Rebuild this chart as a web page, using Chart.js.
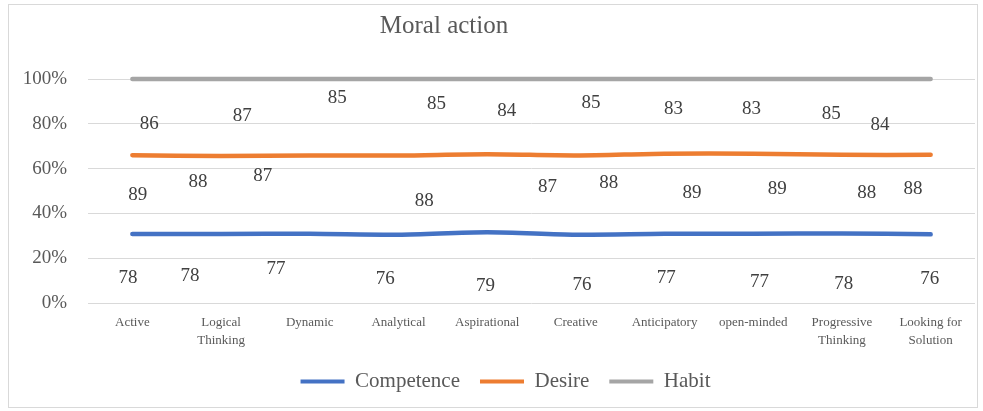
<!DOCTYPE html>
<html>
<head>
<meta charset="utf-8">
<script src="https://cdn.jsdelivr.net/npm/chart.js@4/dist/chart.umd.min.js"></script>
<style>
  html, body { margin: 0; padding: 0; background: #fff; }
  #wrap { position: relative; width: 983px; height: 411px; }
</style>
</head>
<body>
<div id="wrap"><canvas id="lineChart" width="983" height="411"></canvas></div>
<script>
const categories = [
    'Active', ['Logical', 'Thinking'], 'Dynamic', 'Analytical', 'Aspirational',
    'Creative', 'Anticipatory', 'open-minded', ['Progressive', 'Thinking'], ['Looking for', 'Solution']
];
const competence = [78, 78, 77, 76, 79, 76, 77, 77, 78, 76];
const desire = [89, 88, 87, 88, 87, 88, 89, 89, 88, 88];
const habit = [86, 87, 85, 85, 84, 85, 83, 83, 85, 84];
const yTicks = [0, 20, 40, 60, 80, 100];

// where each value label sits: [offset in categories, height in %]
const competenceLabelAt = [[-0.05, 11.2], [-0.35, 12.1], [-0.38, 15.2], [-0.15, 10.8], [-0.02, 7.6],
    [0.07, 8.1], [0.02, 11.2], [0.07, 9.4], [0.02, 8.5], [-0.01, 10.8]];
const desireLabelAt = [[0.06, 48.0], [-0.26, 53.8], [-0.53, 56.5], [0.29, 45.7], [0.68, 51.6],
    [0.37, 53.4], [0.31, 48.9], [0.27, 50.7], [0.28, 48.9], [-0.20, 51.1]];
const habitLabelAt = [[0.19, 79.8], [0.24, 83.4], [0.31, 91.5], [0.43, 88.8], [0.22, 85.7],
    [0.17, 89.2], [0.10, 86.5], [-0.02, 86.5], [-0.12, 84.3], [-0.57, 79.4]];

// 100% stacked: cumulative share of each series
const totals = competence.map((v, i) => v + desire[i] + habit[i]);
const competencePct = competence.map((v, i) => v / totals[i] * 100);
const desirePct = desire.map((v, i) => (competence[i] + v) / totals[i] * 100);
const habitPct = habit.map((v, i) => (competence[i] + desire[i] + v) / totals[i] * 100);

const serif = '"Liberation Serif", "DejaVu Serif", serif';

const framePlugin = {
    id: 'frame',
    afterLayout(chart) {
        // legend sits a little right of centre in the original
        chart.legend.left += 13;
        chart.legend.right += 13;
    },
    beforeDraw(chart) {
        const ctx = chart.ctx;
        ctx.save();
        ctx.strokeStyle = '#d9d9d9';
        ctx.lineWidth = 1;
        ctx.strokeRect(8.5, 4.5, 969, 403);
        ctx.fillStyle = '#595959';
        ctx.font = '25px ' + serif;
        ctx.textAlign = 'center';
        ctx.textBaseline = 'middle';
        ctx.fillText('Moral action', 444, 26);
        ctx.restore();
    }
};

const valueLabels = {
    id: 'valueLabels',
    afterDatasetsDraw(chart) {
        const ctx = chart.ctx;
        const xs = chart.scales.x, ys = chart.scales.y;
        const sets = [[competence, competenceLabelAt], [desire, desireLabelAt], [habit, habitLabelAt]];
        ctx.save();
        ctx.fillStyle = '#404040';
        ctx.font = '19px ' + serif;
        ctx.textAlign = 'center';
        ctx.textBaseline = 'middle';
        sets.forEach(([vals, pos]) => {
            vals.forEach((v, i) => {
                ctx.fillText(String(v), xs.getPixelForValue(i + pos[i][0]), ys.getPixelForValue(pos[i][1]));
            });
        });
        ctx.restore();
    }
};

const ctx = document.getElementById('lineChart').getContext('2d');
new Chart(ctx, {
    type: 'line',
    data: {
        labels: categories,
        datasets: [
            { label: 'Competence', data: competencePct, borderColor: '#4472C4', backgroundColor: '#4472C4' },
            { label: 'Desire', data: desirePct, borderColor: '#ED7D31', backgroundColor: '#ED7D31' },
            { label: 'Habit', data: habitPct, borderColor: '#A5A5A5', backgroundColor: '#A5A5A5' },
        ].map(d => Object.assign(d, {
            borderWidth: 4.5,
            pointRadius: 0,
            tension: 0.3,
            clip: false,
            borderCapStyle: 'round',
        })),
    },
    options: {
        responsive: false,
        animation: false,
        layout: { padding: { top: 79, right: 8, left: 10, bottom: 9 } },
        plugins: {
            title: { display: false },
            tooltip: { enabled: false },
            legend: {
                position: 'bottom',
                labels: {
                    font: { family: serif, size: 21 },
                    color: '#595959',
                    boxWidth: 44,
                    boxHeight: 4,
                    padding: 20,
                    generateLabels(chart) {
                        return chart.data.datasets.map((d, i) => ({
                            text: d.label,
                            fillStyle: d.borderColor,
                            strokeStyle: d.borderColor,
                            lineWidth: 0,
                            fontColor: '#595959',
                            datasetIndex: i,
                        }));
                    }
                }
            }
        },
        scales: {
            x: {
                offset: true,
                grid: { display: false, drawTicks: false },
                border: { display: false },
                ticks: {
                    font: { family: serif, size: 13, lineHeight: 1.4 },
                    color: '#595959',
                    maxRotation: 0,
                    autoSkip: false,
                    padding: 10,
                },
                afterFit(scale) { scale.height = 48; }
            },
            y: {
                min: 0,
                max: 100,
                afterBuildTicks(scale) { scale.ticks = yTicks.map(v => ({ value: v })); },
                grid: { color: '#d9d9d9', drawTicks: false },
                border: { display: false },
                ticks: {
                    font: { family: serif, size: 19 },
                    color: '#595959',
                    padding: 21,
                    callback: v => v + '%',
                },
                afterFit(scale) { scale.width = 78; }
            }
        }
    },
    plugins: [framePlugin, valueLabels],
});
</script>
</body>
</html>
